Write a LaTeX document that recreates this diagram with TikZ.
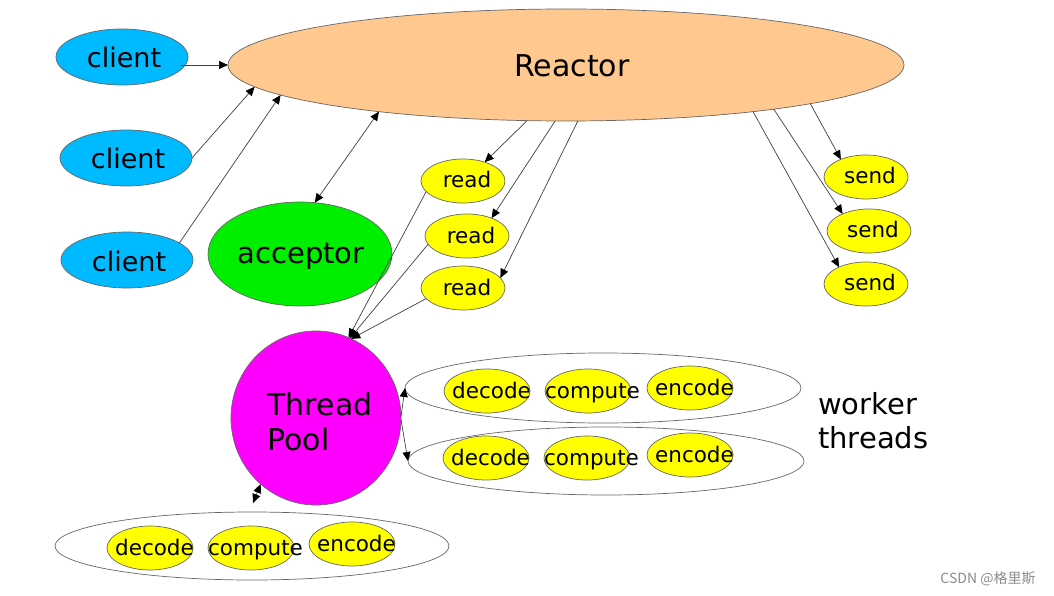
\documentclass[tikz,border=0pt]{standalone}
\usepackage{fontspec}
\setmainfont{DejaVu Sans}
\newfontfamily\cjk{Noto Sans CJK SC}
\usetikzlibrary{shapes.geometric,arrows.meta,calc}
\definecolor{clientblue}{RGB}{0,186,255}
\definecolor{reactorc}{RGB}{255,200,142}
\definecolor{accgreen}{RGB}{0,238,0}
\definecolor{poolmag}{RGB}{255,0,255}
\definecolor{taskyel}{RGB}{255,255,0}
\newcommand\shtext[2]{\makebox[0pt]{\hspace*{#1}#2}}
\begin{document}
\begin{tikzpicture}[x=1pt,y=-1pt,
  ell/.style={ellipse, draw=black!60, line width=0.7pt, inner sep=0pt, outer sep=0pt},
  tip/.tip={Triangle[length=9pt,width=8pt,color=black]},
  arr/.style={draw=black!75, line width=0.7pt, -tip},
  darr/.style={draw=black!75, line width=0.7pt, tip-tip},
  lc/.style={text height=#1, text depth=0pt},
  clientst/.style={ell, lc=22pt, fill=clientblue, minimum width=132pt, minimum height=56pt, font=\fontsize{27}{32}\selectfont},
  smallst/.style={ell, fill=taskyel, minimum width=84pt, minimum height=44pt, font=\fontsize{21.5}{26}\selectfont},
  taskst/.style={ell, lc=14pt, fill=taskyel, minimum width=86pt, minimum height=44pt, font=\fontsize{21.5}{26}\selectfont},
  groupst/.style={ell, minimum width=396pt, minimum height=69pt}
]
\useasboundingbox (0,0) rectangle (1054,596);
\fill[white] (0,0) rectangle (1054,596);

% main nodes
\node[clientst] (c1) at (122,57) {\shtext{4pt}{client}};
\node[clientst] (c2) at (126,158) {\shtext{4pt}{client}};
\node[clientst] (c3) at (127,260) {\shtext{4pt}{client}};
\node[ell, lc=24pt, fill=reactorc, minimum width=676pt, minimum height=112pt, font=\fontsize{30}{36}\selectfont] (reactor) at (566,65) {\shtext{12pt}{Reactor}};
\node[ell, lc=18pt, fill=accgreen, minimum width=184pt, minimum height=104pt, font=\fontsize{29}{35}\selectfont] (acc) at (300,254) {\shtext{2pt}{acceptor}};

\node[smallst, lc=14pt] (r1) at (463,181) {\shtext{8pt}{read}};
\node[smallst, lc=14pt] (r2) at (467,236) {\shtext{8pt}{read}};
\node[smallst, lc=14pt] (r3) at (463,288) {\shtext{8pt}{read}};
\node[smallst, lc=12pt] (s1) at (866,177) {\shtext{8pt}{send}};
\node[smallst, lc=12pt] (s2) at (869,231) {\shtext{8pt}{send}};
\node[smallst, lc=12pt] (s3) at (866,284) {\shtext{8pt}{send}};

\node[ell, fill=poolmag, minimum width=170pt, minimum height=174pt,
  label={[align=left, inner sep=0pt, xshift=4pt, yshift=-4pt, font=\fontsize{30}{35}\selectfont]center:Thread\\Pool}] (tp) at (316,418) {};

% worker groups
\node[groupst, minimum height=70pt] (w1) at (603,388) {};
\node[groupst, minimum height=68pt] (w2) at (606,461) {};
\node[groupst, minimum width=394pt, minimum height=68pt] (bot) at (252,546) {};

\node[taskst] (d1) at (487,391) {\shtext{9pt}{decode}};
\node[taskst] (p1) at (588,391) {\shtext{9pt}{compute}};
\node[taskst] (e1) at (690,388) {\shtext{9pt}{encode}};
\node[taskst] (d2) at (486,458) {\shtext{9pt}{decode}};
\node[taskst] (p2) at (587,458) {\shtext{9pt}{compute}};
\node[taskst] (e2) at (690,455) {\shtext{9pt}{encode}};
\node[taskst] (d3) at (150,548) {\shtext{9pt}{decode}};
\node[taskst] (p3) at (251,548) {\shtext{9pt}{compute}};
\node[taskst] (e3) at (352,544) {\shtext{9pt}{encode}};

\node[anchor=west, align=left, inner sep=0pt, font=\fontsize{29}{34}\selectfont] (wt) at (818,421) {worker\\threads};

\node[inner sep=0pt, text=black!45, font=\cjk\fontsize{14}{16}\selectfont] (wm) at (988,579) {CSDN @格里斯};

% connectors
\draw[arr] ($(c1.center)+(58,8)$) -- (reactor.180);
\draw[arr] (c2.0) -- (reactor.184.2);
\draw[arr] (c3.18) -- (reactor.186.9);
\draw[darr] (acc.74.7) -- (reactor.194.6);

\draw[arr] (reactor.-125.8) -- (r1.41.5);
\draw[arr] (reactor.-101.3) -- (r2.36.9);
\draw[arr] (reactor.-78.7) -- (r3.15.8);

\draw[arr] (r1.196.1) -- (tp.68.5);
\draw[arr] (r2.192.7) -- (tp.67.5);
\draw[arr] (r3.196.1) -- (tp.66.5);

\draw[arr] (reactor.-9.4) -- (s1.145.8);
\draw[arr] (reactor.-12.6) -- (s2.147.3);
\draw[arr] (reactor.-14.1) -- (s3.148.5);

\draw[arr] (tp.1) -- (w1.180);
\draw[arr] (tp.-1) -- (w2.180);
\draw[darr] ($(bot.north)+(1,-9)$) -- (tp.230.9);
\end{tikzpicture}
\end{document}
